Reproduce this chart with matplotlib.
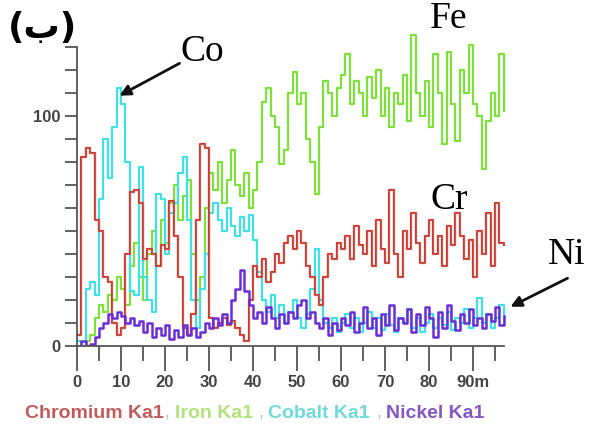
import matplotlib
matplotlib.use("Agg")
import matplotlib.pyplot as plt
import numpy as np

# distance (um) and counts, one value per micron
distance = list(range(98))

chromium = [5, 82, 86, 84, 55, 50, 30, 28, 10, 5, 8, 40, 67, 68, 62, 38, 42, 40, 35, 44,
            42, 63, 48, 30, 8, 5, 14, 55, 88, 86, 12, 8, 10, 12, 9, 11, 8, 5, 2, 20,
            35, 30, 38, 28, 32, 40, 36, 45, 48, 42, 50, 45, 35, 30, 22, 18, 30, 40, 38, 45,
            42, 48, 38, 52, 44, 40, 50, 35, 55, 42, 36, 68, 40, 30, 50, 42, 58, 45, 36, 48,
            55, 40, 48, 35, 52, 44, 58, 48, 38, 46, 30, 50, 40, 58, 35, 62, 45, 44]

iron = [0, 0, 2, 5, 12, 18, 15, 22, 20, 30, 25, 18, 35, 45, 30, 20, 40, 50, 35, 55,
        45, 62, 70, 55, 65, 72, 40, 20, 30, 60, 75, 68, 80, 62, 72, 85, 70, 65, 75, 60,
        68, 80, 106, 112, 100, 95, 79, 85, 110, 119, 105, 110, 90, 80, 66, 95, 115, 110, 100, 112,
        118, 127, 105, 115, 110, 100, 117, 108, 120, 100, 112, 95, 110, 105, 118, 98, 135, 110, 100, 115,
        95, 127, 110, 88, 128, 105, 89, 120, 110, 131, 105, 100, 77, 98, 110, 100, 127, 102]

cobalt = [2, 0, 25, 28, 22, 64, 90, 73, 95, 112, 105, 80, 24, 22, 78, 30, 20, 15, 66, 64,
          40, 58, 62, 75, 82, 55, 20, 8, 25, 40, 58, 62, 55, 50, 60, 52, 48, 56, 50, 57,
          46, 32, 20, 15, 22, 12, 18, 10, 15, 20, 12, 8, 14, 25, 42, 20, 10, 8, 12, 6,
          10, 14, 8, 12, 6, 10, 15, 8, 12, 7, 14, 9, 6, 12, 10, 16, 8, 12, 6, 10,
          14, 8, 12, 9, 15, 7, 12, 10, 16, 8, 12, 21, 10, 14, 8, 12, 18, 10]

nickel = [0, 2, 0, 1, 4, 8, 10, 14, 12, 15, 13, 10, 12, 9, 11, 6, 10, 4, 8, 5,
          9, 3, 7, 4, 9, 5, 8, 4, 6, 10, 8, 12, 9, 14, 10, 20, 25, 33, 24, 18,
          12, 15, 10, 17, 12, 8, 14, 10, 15, 12, 18, 20, 12, 15, 10, 8, 12, 5, 10, 7,
          12, 9, 15, 6, 10, 17, 8, 12, 5, 14, 9, 18, 7, 12, 10, 16, 6, 14, 9, 17,
          12, 4, 15, 8, 18, 11, 7, 14, 10, 16, 9, 12, 8, 14, 11, 17, 9, 13]

x_ticks = [0, 10, 20, 30, 40, 50, 60, 70, 80, 90]
x_tick_labels = ["0", "10", "20", "30", "40", "50", "60", "70", "80", "90m"]

legend_items = [("Chromium Ka1", "#c25a5a"), ("Iron Ka1", "#b2e27c"),
                ("Cobalt Ka1", "#6fdada"), ("Nickel Ka1", "#8457c4")]

W, H = 595, 425
fig = plt.figure(figsize=(W / 100, H / 100), dpi=100)
ax = fig.add_axes([77 / W, (H - 346) / H, 440 / W, (346 - 24) / H])

ax.step(distance, iron, where="post", color="#7ee03a", lw=1.6)
ax.step(distance, cobalt, where="post", color="#3fe0e6", lw=1.6)
ax.step(distance, chromium, where="post", color="#d9342b", lw=1.6)
ax.step(distance, chromium, where="post", color="#b86a5e", lw=0.6, alpha=0.8)
ax.step(distance, nickel, where="post", color="#6a2ed6", lw=1.8)

ax.set_xlim(0, 100)
ax.set_ylim(0, 140)
for s in ["top", "right"]:
    ax.spines[s].set_visible(False)
ax.spines["left"].set_bounds(0, 130)
ax.spines["bottom"].set_bounds(0, 97)
for s in ["left", "bottom"]:
    ax.spines[s].set_color("#555555")
    ax.spines[s].set_linewidth(1.3)

ax.set_yticks(np.arange(0, 131, 10))
ax.set_yticklabels(["0" if v == 0 else "100" if v == 100 else "" for v in range(0, 131, 10)])
ax.set_xticks(x_ticks)
ax.set_xticklabels(x_tick_labels)
ax.set_xticks(np.arange(5, 100, 10), minor=True)
ax.tick_params(axis="y", direction="out", length=9, width=1.3, color="#555555",
               labelsize=12, labelcolor="#444444", pad=3)
ax.tick_params(axis="x", which="major", direction="out", length=18, width=1.3,
               color="#555555", labelsize=12, labelcolor="#444444", pad=3)
ax.tick_params(axis="x", which="minor", direction="out", length=11, width=1.3,
               color="#555555")
for lab in ax.get_xticklabels() + ax.get_yticklabels():
    lab.set_fontfamily("Liberation Sans")
    lab.set_fontweight("bold")

# element labels and arrows
serif = "Liberation Serif"
fig.text(8 / W, 1 - 28 / H, "(ب)", fontsize=26, fontweight="bold", family="DejaVu Sans",
         va="center", ha="left")
fig.text(180 / W, 1 - 52 / H, "Co", fontsize=27, family=serif, va="center", ha="left")
fig.text(430 / W, 1 - 19 / H, "Fe", fontsize=27, family=serif, va="center", ha="left")
fig.text(430 / W, 1 - 200 / H, "Cr", fontsize=27, family=serif, va="center", ha="left")
fig.text(548 / W, 1 - 255 / H, "Ni", fontsize=27, family=serif, va="center", ha="left")

fig.add_artist(matplotlib.patches.FancyArrowPatch(
    (182 / W, 1 - 62 / H), (117 / W, 1 - 97 / H), transform=fig.transFigure,
    arrowstyle="-|>", mutation_scale=16, lw=2, color="#111111"))
fig.add_artist(matplotlib.patches.FancyArrowPatch(
    (570 / W, 1 - 277 / H), (508 / W, 1 - 308 / H), transform=fig.transFigure,
    arrowstyle="-|>", mutation_scale=16, lw=2, color="#111111"))

# legend line under the axis
starts = [25, 175, 268, 386]
for (name, col), x0 in zip(legend_items, starts):
    fig.text(x0 / W, 1 - 413 / H, name, color=col, fontsize=14, fontweight="bold",
             family="Liberation Sans", va="center", ha="left")
for xc in [164, 258, 376]:
    fig.text(xc / W, 1 - 413 / H, ",", color="#bbbbbb", fontsize=13,
             family="Liberation Sans", va="center", ha="left")

fig.savefig("out.png", dpi=100)
